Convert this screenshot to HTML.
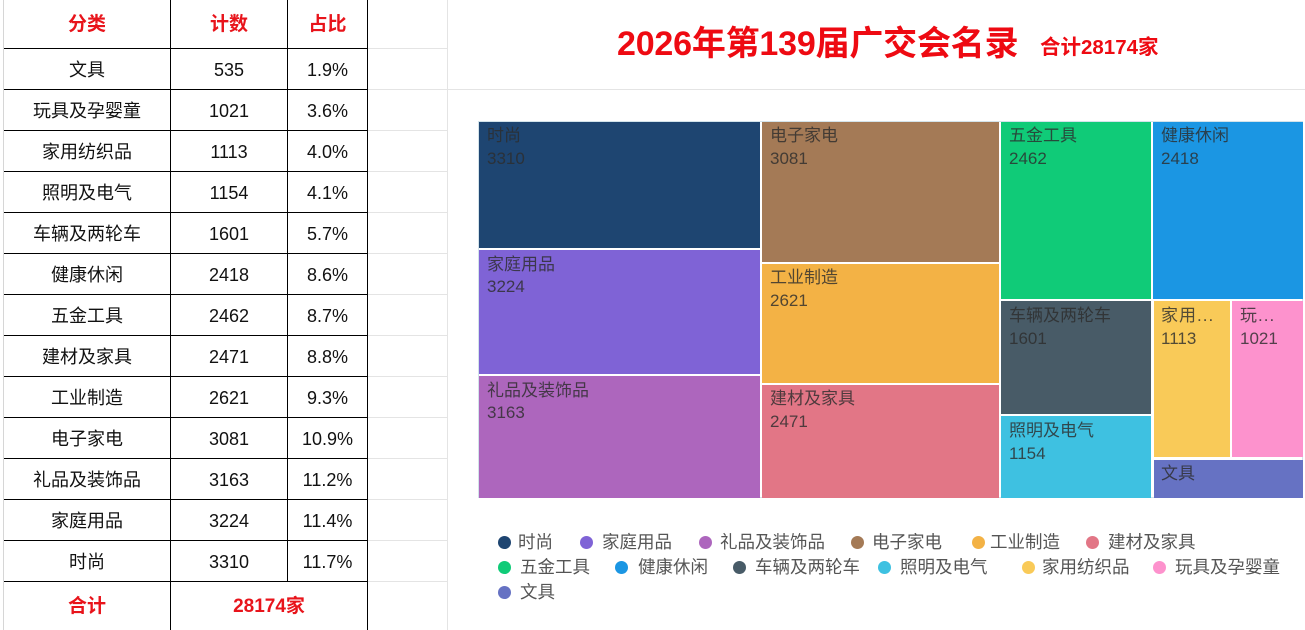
<!DOCTYPE html>
<html><head><meta charset="utf-8">
<style>
*{margin:0;padding:0;box-sizing:border-box}
body{width:1305px;height:630px;background:#fff;position:relative;overflow:hidden;font-family:"Liberation Sans","Noto Sans CJK SC",sans-serif}
.a{position:absolute}
.hl{position:absolute;height:1px;background:#000}
.vl{position:absolute;width:1px;background:#000}
.g{position:absolute;background:#e4e4e4}
.c{position:absolute;display:flex;align-items:center;justify-content:center;font-size:18px;color:#111;line-height:18px;white-space:nowrap;padding-top:1px}
.h{color:#e8141b;font-weight:bold;font-size:19px}
.r{position:absolute}
.n{position:absolute;font-size:17px;line-height:17px;color:rgba(45,45,45,0.82);white-space:nowrap;font-family:"Liberation Sans","Noto Sans CJK SC",sans-serif}
.lg{position:absolute;font-size:17.5px;line-height:17px;color:#555;white-space:nowrap}
.dot{position:absolute;width:13px;height:13px;border-radius:50%}
</style></head><body>

<!-- spreadsheet faint grid -->
<div class="g" style="left:3px;top:0;width:1px;height:630px;background:#d6d6d6"></div>
<div class="g" style="left:447px;top:0;width:1px;height:630px"></div>
<div class="g" style="left:367px;top:48px;width:80px;height:1px"></div>
<div class="g" style="left:367px;top:89px;width:938px;height:1px"></div>
<div class="g" style="left:367px;top:130px;width:80px;height:1px"></div>
<div class="g" style="left:367px;top:171px;width:80px;height:1px"></div>
<div class="g" style="left:367px;top:212px;width:80px;height:1px"></div>
<div class="g" style="left:367px;top:253px;width:80px;height:1px"></div>
<div class="g" style="left:367px;top:294px;width:80px;height:1px"></div>
<div class="g" style="left:367px;top:335px;width:80px;height:1px"></div>
<div class="g" style="left:367px;top:376px;width:80px;height:1px"></div>
<div class="g" style="left:367px;top:417px;width:80px;height:1px"></div>
<div class="g" style="left:367px;top:458px;width:80px;height:1px"></div>
<div class="g" style="left:367px;top:499px;width:80px;height:1px"></div>
<div class="g" style="left:367px;top:540px;width:80px;height:1px"></div>
<div class="g" style="left:367px;top:581px;width:80px;height:1px"></div>

<!-- table lines -->
<div class="vl" style="left:170px;top:0;height:630px"></div>
<div class="vl" style="left:287px;top:0;height:581px"></div>
<div class="vl" style="left:367px;top:0;height:630px"></div>
<div class="hl" style="left:4px;top:48px;width:364px"></div>
<div class="hl" style="left:4px;top:89px;width:364px"></div>
<div class="hl" style="left:4px;top:130px;width:364px"></div>
<div class="hl" style="left:4px;top:171px;width:364px"></div>
<div class="hl" style="left:4px;top:212px;width:364px"></div>
<div class="hl" style="left:4px;top:253px;width:364px"></div>
<div class="hl" style="left:4px;top:294px;width:364px"></div>
<div class="hl" style="left:4px;top:335px;width:364px"></div>
<div class="hl" style="left:4px;top:376px;width:364px"></div>
<div class="hl" style="left:4px;top:417px;width:364px"></div>
<div class="hl" style="left:4px;top:458px;width:364px"></div>
<div class="hl" style="left:4px;top:499px;width:364px"></div>
<div class="hl" style="left:4px;top:540px;width:364px"></div>
<div class="hl" style="left:4px;top:581px;width:364px"></div>

<!-- header -->
<div class="c h" style="left:4px;top:0;width:166px;height:48px">分类</div>
<div class="c h" style="left:171px;top:0;width:116px;height:48px">计数</div>
<div class="c h" style="left:288px;top:0;width:79px;height:48px">占比</div>

<!-- rows -->
<div class="c" style="left:4px;top:49px;width:166px;height:40px">文具</div><div class="c" style="left:171px;top:49px;width:116px;height:40px">535</div><div class="c" style="left:288px;top:49px;width:79px;height:40px">1.9%</div>
<div class="c" style="left:4px;top:90px;width:166px;height:40px">玩具及孕婴童</div><div class="c" style="left:171px;top:90px;width:116px;height:40px">1021</div><div class="c" style="left:288px;top:90px;width:79px;height:40px">3.6%</div>
<div class="c" style="left:4px;top:131px;width:166px;height:40px">家用纺织品</div><div class="c" style="left:171px;top:131px;width:116px;height:40px">1113</div><div class="c" style="left:288px;top:131px;width:79px;height:40px">4.0%</div>
<div class="c" style="left:4px;top:172px;width:166px;height:40px">照明及电气</div><div class="c" style="left:171px;top:172px;width:116px;height:40px">1154</div><div class="c" style="left:288px;top:172px;width:79px;height:40px">4.1%</div>
<div class="c" style="left:4px;top:213px;width:166px;height:40px">车辆及两轮车</div><div class="c" style="left:171px;top:213px;width:116px;height:40px">1601</div><div class="c" style="left:288px;top:213px;width:79px;height:40px">5.7%</div>
<div class="c" style="left:4px;top:254px;width:166px;height:40px">健康休闲</div><div class="c" style="left:171px;top:254px;width:116px;height:40px">2418</div><div class="c" style="left:288px;top:254px;width:79px;height:40px">8.6%</div>
<div class="c" style="left:4px;top:295px;width:166px;height:40px">五金工具</div><div class="c" style="left:171px;top:295px;width:116px;height:40px">2462</div><div class="c" style="left:288px;top:295px;width:79px;height:40px">8.7%</div>
<div class="c" style="left:4px;top:336px;width:166px;height:40px">建材及家具</div><div class="c" style="left:171px;top:336px;width:116px;height:40px">2471</div><div class="c" style="left:288px;top:336px;width:79px;height:40px">8.8%</div>
<div class="c" style="left:4px;top:377px;width:166px;height:40px">工业制造</div><div class="c" style="left:171px;top:377px;width:116px;height:40px">2621</div><div class="c" style="left:288px;top:377px;width:79px;height:40px">9.3%</div>
<div class="c" style="left:4px;top:418px;width:166px;height:40px">电子家电</div><div class="c" style="left:171px;top:418px;width:116px;height:40px">3081</div><div class="c" style="left:288px;top:418px;width:79px;height:40px">10.9%</div>
<div class="c" style="left:4px;top:459px;width:166px;height:40px">礼品及装饰品</div><div class="c" style="left:171px;top:459px;width:116px;height:40px">3163</div><div class="c" style="left:288px;top:459px;width:79px;height:40px">11.2%</div>
<div class="c" style="left:4px;top:500px;width:166px;height:40px">家庭用品</div><div class="c" style="left:171px;top:500px;width:116px;height:40px">3224</div><div class="c" style="left:288px;top:500px;width:79px;height:40px">11.4%</div>
<div class="c" style="left:4px;top:541px;width:166px;height:40px">时尚</div><div class="c" style="left:171px;top:541px;width:116px;height:40px">3310</div><div class="c" style="left:288px;top:541px;width:79px;height:40px">11.7%</div>

<!-- total -->
<div class="c h" style="left:4px;top:582px;width:166px;height:48px">合计</div>
<div class="c h" style="left:171px;top:582px;width:196px;height:48px">28174家</div>

<!-- title -->
<div class="a" style="left:617px;top:27px;font-size:34px;line-height:34px;font-weight:bold;color:#ee0a12;white-space:nowrap;letter-spacing:-0.2px">2026年第139届广交会名录</div>
<div class="a" style="left:1040px;top:37px;font-size:20.5px;line-height:21px;font-weight:bold;color:#ee0a12;white-space:nowrap">合计28174家</div>

<!-- treemap -->
<div class="a" style="left:478px;top:121px;width:825px;height:377px;background:#fff;border:1px solid #d3e3ea"></div>
<div class="r" style="left:479px;top:122px;width:281px;height:126px;background:#1e4571"></div>
<div class="r" style="left:479px;top:250px;width:281px;height:124px;background:#7f63d6"></div>
<div class="r" style="left:479px;top:376px;width:281px;height:122px;background:#ad66bd"></div>
<div class="r" style="left:762px;top:122px;width:237px;height:140px;background:#a47a56"></div>
<div class="r" style="left:762px;top:264px;width:237px;height:119px;background:#f3b245"></div>
<div class="r" style="left:762px;top:385px;width:237px;height:113px;background:#e27686"></div>
<div class="r" style="left:1001px;top:122px;width:150px;height:177px;background:#10cb78"></div>
<div class="r" style="left:1153px;top:122px;width:150px;height:177px;background:#1b96e3"></div>
<div class="r" style="left:1001px;top:301px;width:150px;height:113px;background:#485b67"></div>
<div class="r" style="left:1001px;top:416px;width:150px;height:82px;background:#3ec1e1"></div>
<div class="r" style="left:1154px;top:301px;width:76px;height:156px;background:#f9ca58"></div>
<div class="r" style="left:1232px;top:301px;width:71px;height:156px;background:#fd92cd"></div>
<div class="r" style="left:1154px;top:460px;width:149px;height:38px;background:#6672c3"></div>

<!-- treemap labels -->
<div class="n" style="left:487px;top:127px">时尚</div><div class="n" style="left:487px;top:150px">3310</div>
<div class="n" style="left:487px;top:256px">家庭用品</div><div class="n" style="left:487px;top:278px">3224</div>
<div class="n" style="left:487px;top:382px">礼品及装饰品</div><div class="n" style="left:487px;top:404px">3163</div>
<div class="n" style="left:770px;top:127px">电子家电</div><div class="n" style="left:770px;top:150px">3081</div>
<div class="n" style="left:770px;top:269px">工业制造</div><div class="n" style="left:770px;top:292px">2621</div>
<div class="n" style="left:770px;top:390px">建材及家具</div><div class="n" style="left:770px;top:413px">2471</div>
<div class="n" style="left:1009px;top:127px">五金工具</div><div class="n" style="left:1009px;top:150px">2462</div>
<div class="n" style="left:1161px;top:127px">健康休闲</div><div class="n" style="left:1161px;top:150px">2418</div>
<div class="n" style="left:1009px;top:307px">车辆及两轮车</div><div class="n" style="left:1009px;top:330px">1601</div>
<div class="n" style="left:1009px;top:422px">照明及电气</div><div class="n" style="left:1009px;top:445px">1154</div>
<div class="n" style="left:1161px;top:307px;letter-spacing:1px">家用...</div><div class="n" style="left:1161px;top:330px">1113</div>
<div class="n" style="left:1240px;top:307px;letter-spacing:1px">玩...</div><div class="n" style="left:1240px;top:330px">1021</div>
<div class="n" style="left:1161px;top:465px">文具</div>

<!-- legend row 1 -->
<div class="dot" style="left:498px;top:536px;background:#1e4571"></div><div class="lg" style="left:518px;top:534px">时尚</div>
<div class="dot" style="left:580px;top:536px;background:#7f63d6"></div><div class="lg" style="left:602px;top:534px">家庭用品</div>
<div class="dot" style="left:699px;top:536px;background:#ad66bd"></div><div class="lg" style="left:720px;top:534px">礼品及装饰品</div>
<div class="dot" style="left:851px;top:536px;background:#a47a56"></div><div class="lg" style="left:872px;top:534px">电子家电</div>
<div class="dot" style="left:972px;top:536px;background:#f3b245"></div><div class="lg" style="left:990px;top:534px">工业制造</div>
<div class="dot" style="left:1086px;top:536px;background:#e27686"></div><div class="lg" style="left:1108px;top:534px">建材及家具</div>
<!-- legend row 2 -->
<div class="dot" style="left:498px;top:561px;background:#10cb78"></div><div class="lg" style="left:520px;top:559px">五金工具</div>
<div class="dot" style="left:615px;top:561px;background:#1b96e3"></div><div class="lg" style="left:638px;top:559px">健康休闲</div>
<div class="dot" style="left:733px;top:561px;background:#485b67"></div><div class="lg" style="left:755px;top:559px">车辆及两轮车</div>
<div class="dot" style="left:878px;top:561px;background:#3ec1e1"></div><div class="lg" style="left:900px;top:559px">照明及电气</div>
<div class="dot" style="left:1022px;top:561px;background:#f9ca58"></div><div class="lg" style="left:1042px;top:559px">家用纺织品</div>
<div class="dot" style="left:1153px;top:561px;background:#fd92cd"></div><div class="lg" style="left:1175px;top:559px">玩具及孕婴童</div>
<!-- legend row 3 -->
<div class="dot" style="left:498px;top:586px;background:#6672c3"></div><div class="lg" style="left:520px;top:584px">文具</div>

</body></html>
